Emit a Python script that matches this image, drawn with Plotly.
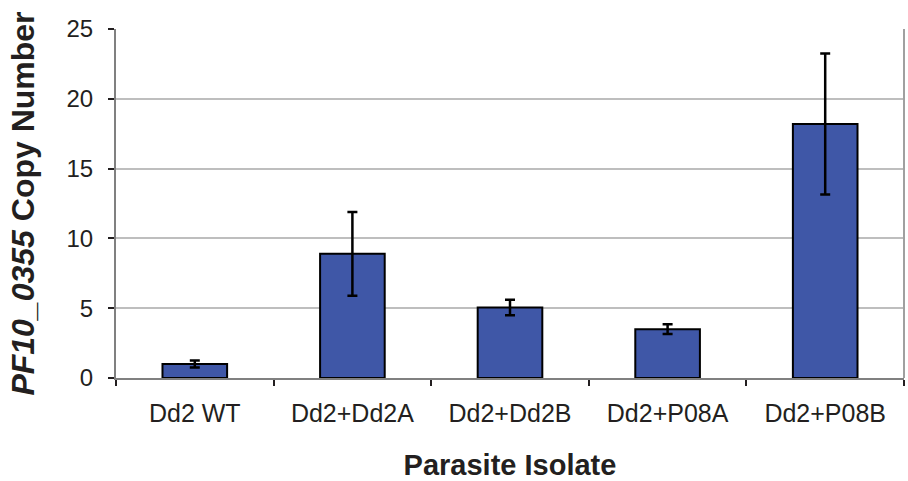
import plotly.graph_objects as go

categories = ["Dd2 WT", "Dd2+Dd2A", "Dd2+Dd2B", "Dd2+P08A", "Dd2+P08B"]
copy_number = [1.0, 8.9, 5.05, 3.5, 18.2]
error = [0.25, 3.0, 0.55, 0.35, 5.05]
y_ticks = [0, 5, 10, 15, 20, 25]

fig = go.Figure()
fig.add_trace(go.Bar(
    x=categories, y=copy_number,
    width=0.41,
    marker=dict(color="rgb(63,87,167)", line=dict(color="black", width=2)),
    error_y=dict(type="data", array=error, visible=True, color="black", thickness=2.5, width=5),
))

font_family = "Liberation Sans, Arial, sans-serif"
fig.update_layout(
    width=908, height=481,
    margin=dict(l=116, r=4, t=29, b=103),
    plot_bgcolor="white", paper_bgcolor="white",
    showlegend=False,
    font=dict(family=font_family, color="#231f20", size=20),
    xaxis=dict(
        tickson="boundaries", ticks="outside", ticklen=6, tickwidth=2, tickcolor="#231f20",
        showline=True, linecolor="rgb(128,128,128)", linewidth=2,
        showgrid=False,
        tickfont=dict(size=25), ticklabelstandoff=12,
        title=dict(text="<b>Parasite Isolate</b>", font=dict(size=29), standoff=29),
    ),
    yaxis=dict(
        range=[0, 25], tickvals=y_ticks,
        ticks="outside", ticklen=6, tickwidth=2, tickcolor="#231f20",
        showline=True, linecolor="rgb(128,128,128)", linewidth=2,
        showgrid=True, gridcolor="rgb(190,190,190)", gridwidth=2,
        zeroline=False,
        tickfont=dict(size=24), ticklabelstandoff=10,
        title=dict(text="<b><i>PF10_0355</i> Copy Number</b>", font=dict(size=32), standoff=22),
    ),
    bargap=0.59,
)
fig.add_shape(type="line", xref="paper", yref="paper", x0=1, x1=1, y0=0, y1=1,
              line=dict(color="rgb(160,160,160)", width=2))
fig.write_html("out.html")
